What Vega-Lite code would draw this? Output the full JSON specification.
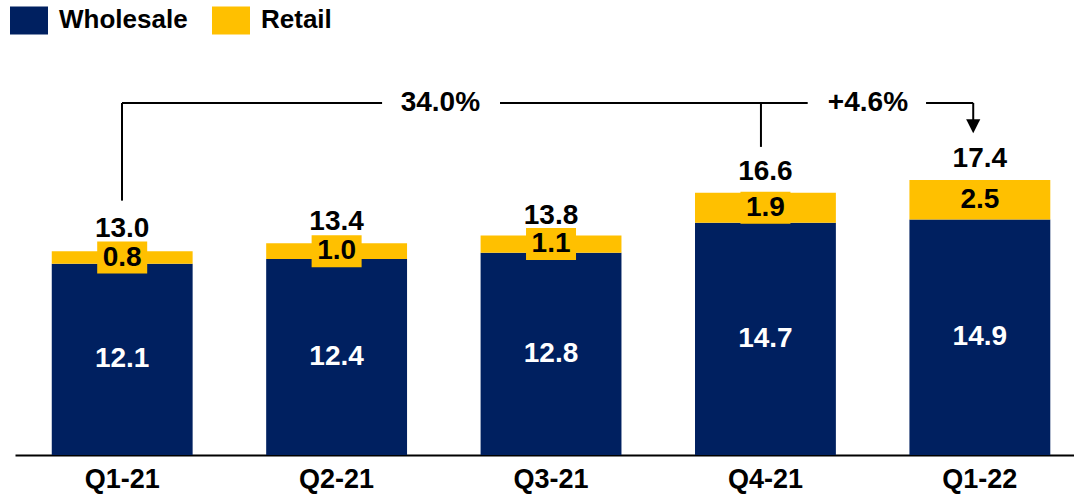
{
  "$schema": "https://vega.github.io/schema/vega-lite/v6.json",
  "width": 1059,
  "height": 395,
  "autosize": {"type": "none"},
  "padding": {"left": 15, "top": 60, "right": 0, "bottom": 40},
  "background": "white",
  "config": {
    "view": {"stroke": null},
    "font": "Liberation Sans",
    "legend": {
      "orient": "none",
      "legendX": -5,
      "legendY": -59,
      "direction": "horizontal",
      "padding": 0,
      "title": null,
      "labelFont": "Liberation Sans",
      "labelFontSize": 26,
      "labelFontWeight": "bold",
      "labelColor": "black",
      "labelOffset": 11,
      "columnPadding": 24,
      "symbolType": "M-1,-0.737H1V0.737H-1Z",
      "symbolSize": 1444,
      "symbolStrokeWidth": 0,
      "symbolOpacity": 1
    }
  },
  "datasets": {
    "sales": [
      {"quarter": "Q1-21", "type": "Wholesale", "value": 12.1},
      {"quarter": "Q1-21", "type": "Retail", "value": 0.8},
      {"quarter": "Q2-21", "type": "Wholesale", "value": 12.4},
      {"quarter": "Q2-21", "type": "Retail", "value": 1.0},
      {"quarter": "Q3-21", "type": "Wholesale", "value": 12.8},
      {"quarter": "Q3-21", "type": "Retail", "value": 1.1},
      {"quarter": "Q4-21", "type": "Wholesale", "value": 14.7},
      {"quarter": "Q4-21", "type": "Retail", "value": 1.9},
      {"quarter": "Q1-22", "type": "Wholesale", "value": 14.9},
      {"quarter": "Q1-22", "type": "Retail", "value": 2.5}
    ],
    "totals": [
      {"quarter": "Q1-21", "total": 13.0},
      {"quarter": "Q2-21", "total": 13.4},
      {"quarter": "Q3-21", "total": 13.8},
      {"quarter": "Q4-21", "total": 16.6},
      {"quarter": "Q1-22", "total": 17.4}
    ],
    "segs": [
      {"x": 0, "x2": 0, "y": 16.1, "y2": 22.28},
      {"x": 0, "x2": 1.213, "y": 22.28, "y2": 22.28},
      {"x": 1.763, "x2": 3.198, "y": 22.28, "y2": 22.28},
      {"x": 2.98, "x2": 2.98, "y": 19.5, "y2": 22.28},
      {"x": 3.75, "x2": 3.97, "y": 22.28, "y2": 22.28},
      {"x": 3.97, "x2": 3.97, "y": 21.2, "y2": 22.28}
    ],
    "notes": [
      {"pos": 1.485, "lev": 22.28, "label": "34.0%"},
      {"pos": 3.479, "lev": 22.28, "label": "+4.6%"}
    ],
    "arrow": [
      {"pos": 3.97, "lev": 20.81}
    ]
  },
  "layer": [
    {
      "data": {"name": "sales"},
      "transform": [
        {"stack": "value", "groupby": ["quarter"], "sort": [{"field": "type", "order": "descending"}], "as": ["v0", "v1"]},
        {"calculate": "(datum.v0 + datum.v1) / 2", "as": "mid"}
      ],
      "encoding": {
        "x": {
          "field": "quarter",
          "type": "nominal",
          "sort": null,
          "scale": {"paddingInner": 0.343, "paddingOuter": 0.141, "align": 0.608},
          "axis": {
            "title": null,
            "labelAngle": 0,
            "domainColor": "black",
            "domainWidth": 2,
            "ticks": false,
            "tickSize": 0,
            "labelFont": "Liberation Sans",
            "labelFontSize": 27,
            "labelFontWeight": "bold",
            "labelColor": "black",
            "labelPadding": 11
          }
        }
      },
      "layer": [
        {
          "mark": {"type": "bar"},
          "encoding": {
            "y": {"field": "v0", "type": "quantitative", "scale": {"domain": [0, 25], "nice": false}, "axis": null},
            "y2": {"field": "v1"},
            "color": {
              "field": "type",
              "type": "nominal",
              "scale": {"domain": ["Wholesale", "Retail"], "range": ["#002060", "#FFC000"]},
              "legend": {}
            }
          }
        },
        {
          "transform": [{"filter": "datum.type === 'Retail'"}],
          "mark": {"type": "point", "shape": "M-1,-0.64H1V0.64H-1Z", "size": 2500, "filled": true, "opacity": 1, "color": "#FFC000", "strokeWidth": 0},
          "encoding": {
            "y": {"field": "mid", "type": "quantitative", "scale": {"domain": [0, 25], "nice": false}, "axis": null}
          }
        },
        {
          "mark": {"type": "text", "font": "Liberation Sans", "fontSize": 28, "fontWeight": "bold", "baseline": "middle", "align": "center"},
          "encoding": {
            "y": {"field": "mid", "type": "quantitative", "scale": {"domain": [0, 25], "nice": false}, "axis": null},
            "text": {"field": "value", "type": "quantitative", "format": ".1f"},
            "color": {"condition": {"test": "datum.type === 'Wholesale'", "value": "white"}, "value": "black"}
          }
        },
        {
          "data": {"name": "totals"},
          "transform": [],
          "mark": {"type": "text", "font": "Liberation Sans", "fontSize": 28, "fontWeight": "bold", "baseline": "alphabetic", "align": "center", "dy": -13, "color": "black"},
          "encoding": {
            "y": {"field": "total", "type": "quantitative", "scale": {"domain": [0, 25], "nice": false}, "axis": null},
            "text": {"field": "total", "type": "quantitative", "format": ".1f"}
          }
        }
      ]
    },
    {
      "layer": [
        {
          "data": {"name": "segs"},
          "mark": {"type": "rule", "color": "black", "strokeWidth": 2},
          "encoding": {
            "x": {"field": "x", "type": "quantitative", "scale": {"domain": [-0.499, 4.44], "nice": false, "zero": false}, "axis": null},
            "x2": {"field": "x2"},
            "y": {"field": "y", "type": "quantitative", "scale": {"domain": [0, 25], "nice": false}, "axis": null},
            "y2": {"field": "y2"}
          }
        },
        {
          "data": {"name": "notes"},
          "mark": {"type": "text", "font": "Liberation Sans", "fontSize": 28, "fontWeight": "bold", "baseline": "middle", "align": "center", "color": "black"},
          "encoding": {
            "x": {"field": "pos", "type": "quantitative", "scale": {"domain": [-0.499, 4.44], "nice": false, "zero": false}, "axis": null},
            "y": {"field": "lev", "type": "quantitative", "scale": {"domain": [0, 25], "nice": false}, "axis": null},
            "text": {"field": "label", "type": "nominal"}
          }
        },
        {
          "data": {"name": "arrow"},
          "mark": {"type": "point", "shape": "M-1,-1L1,-1L0,1Z", "size": 200, "filled": true, "opacity": 1, "color": "black", "strokeWidth": 0},
          "encoding": {
            "x": {"field": "pos", "type": "quantitative", "scale": {"domain": [-0.499, 4.44], "nice": false, "zero": false}, "axis": null},
            "y": {"field": "lev", "type": "quantitative", "scale": {"domain": [0, 25], "nice": false}, "axis": null}
          }
        }
      ]
    }
  ],
  "resolve": {"scale": {"x": "independent"}, "axis": {"x": "independent"}}
}
